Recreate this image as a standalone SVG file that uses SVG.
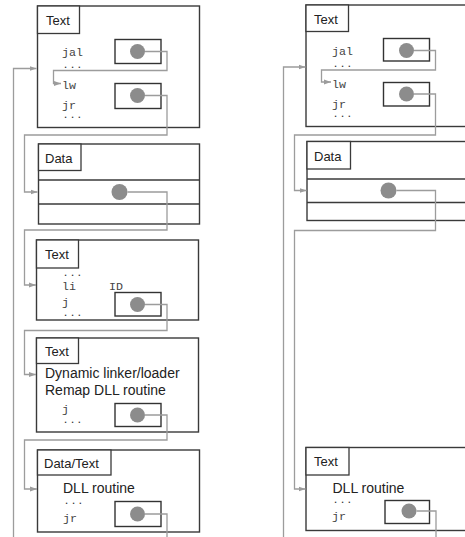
<svg xmlns="http://www.w3.org/2000/svg" width="465" height="537" viewBox="0 0 465 537">
  <style>
    .box { fill: #fff; stroke: #3a3a3a; stroke-width: 1.4; }
    .lbl { fill: #fff; stroke: #3a3a3a; stroke-width: 1.3; }
    .cell { fill: #fff; stroke: #333; stroke-width: 1.4; }
    .dot { fill: #8c8c8c; }
    .wire { fill: none; stroke: #9c9c9c; stroke-width: 1.3; }
    .sans { font-family: "Liberation Sans", Arial, sans-serif; fill: #222; }
    .head { font-size: 13px; }
    .body { font-size: 14px; }
    .mono { font-family: "Liberation Mono", "DejaVu Sans Mono", monospace; font-size: 11.6px; fill: #444; }
    .dots { font-family: "Liberation Mono", "DejaVu Sans Mono", monospace; font-size: 8.5px; font-weight: bold; letter-spacing: 1.8px; fill: #333; }
  </style>
  <defs>
    <marker id="arrow" markerUnits="userSpaceOnUse" markerWidth="8" markerHeight="6" refX="7" refY="3" orient="auto">
      <path d="M0,0.6 L7,3 L0,5.4 Z" fill="#9c9c9c"/>
    </marker>
  </defs>
  <rect width="465" height="537" fill="#fff"/>

  <!-- left column: process before the DLL is linked -->
  <g id="L-text-caller">
    <rect class="box" x="37.5" y="6" width="162" height="121.5"/>
    <rect class="lbl" x="37.5" y="6" width="42" height="27.5"/>
    <text class="sans head" x="46" y="25">Text</text>
    <text class="mono" x="62" y="56">jal</text>
    <text class="dots" x="63" y="67.5">...</text>
    <text class="mono" x="62" y="89">lw</text>
    <text class="mono" x="62" y="109">jr</text>
    <text class="dots" x="63" y="118">...</text>
    <rect class="cell" x="115" y="39.5" width="46" height="24"/>
    <circle class="dot" cx="137.5" cy="51.5" r="7.5"/>
    <rect class="cell" x="115" y="83.5" width="46" height="25"/>
    <circle class="dot" cx="137.5" cy="95.5" r="7.5"/>
  </g>

  <g id="L-data">
    <rect class="box" x="38.5" y="144" width="161" height="80"/>
    <rect class="lbl" x="38.5" y="144" width="42.5" height="26.5"/>
    <text class="sans head" x="45" y="163">Data</text>
    <line class="box" x1="38.5" y1="180" x2="199.5" y2="180"/>
    <line class="box" x1="38.5" y1="204" x2="199.5" y2="204"/>
    <circle class="dot" cx="119.5" cy="192" r="8"/>
  </g>

  <g id="L-text-stub">
    <rect class="box" x="36.5" y="240" width="162" height="80"/>
    <rect class="lbl" x="36.5" y="240" width="42" height="28"/>
    <text class="sans head" x="45" y="259">Text</text>
    <text class="dots" x="63" y="275.5">...</text>
    <text class="mono" x="62" y="290">li</text>
    <text class="mono" x="109" y="290">ID</text>
    <text class="mono" x="62" y="306">j</text>
    <text class="dots" x="63" y="316">...</text>
    <rect class="cell" x="115" y="292.5" width="46" height="23.5"/>
    <circle class="dot" cx="137.5" cy="304.5" r="7.5"/>
  </g>

  <g id="L-text-linker">
    <rect class="box" x="36.5" y="338" width="162" height="94"/>
    <rect class="lbl" x="36.5" y="338" width="42" height="25.5"/>
    <text class="sans head" x="45" y="356">Text</text>
    <text class="sans body" x="45" y="378">Dynamic linker/loader</text>
    <text class="sans body" x="45" y="395">Remap DLL routine</text>
    <text class="mono" x="62" y="412.5">j</text>
    <text class="dots" x="63" y="422.5">...</text>
    <rect class="cell" x="115" y="403.5" width="46" height="23"/>
    <circle class="dot" cx="137.5" cy="415" r="7.5"/>
  </g>

  <g id="L-data-text-dll">
    <rect class="box" x="37.5" y="450" width="162" height="82"/>
    <rect class="lbl" x="37.5" y="450" width="73.5" height="25"/>
    <text class="sans head" x="44" y="468">Data/Text</text>
    <text class="sans body" x="63" y="493">DLL routine</text>
    <text class="dots" x="64" y="504">...</text>
    <text class="mono" x="63" y="522">jr</text>
    <rect class="cell" x="115" y="501.5" width="46" height="25"/>
    <circle class="dot" cx="137.5" cy="514" r="7.5"/>
  </g>

  <!-- right column: process after the DLL is linked -->
  <g id="R-text-caller">
    <rect class="box" x="306" y="5" width="170" height="121.5"/>
    <rect class="lbl" x="306" y="5" width="42.5" height="26.5"/>
    <text class="sans head" x="314" y="24">Text</text>
    <text class="mono" x="332" y="55">jal</text>
    <text class="dots" x="333" y="66.5">...</text>
    <text class="mono" x="332" y="88">lw</text>
    <text class="mono" x="332" y="108">jr</text>
    <text class="dots" x="333" y="117">...</text>
    <rect class="cell" x="383.5" y="38.5" width="46" height="22.5"/>
    <circle class="dot" cx="406.5" cy="50.5" r="7.5"/>
    <rect class="cell" x="383.5" y="82.5" width="46" height="23.5"/>
    <circle class="dot" cx="406.5" cy="94" r="7.5"/>
  </g>

  <g id="R-data">
    <rect class="box" x="307" y="141.5" width="170" height="79"/>
    <rect class="lbl" x="307" y="141.5" width="43.5" height="27.5"/>
    <text class="sans head" x="314" y="161">Data</text>
    <line class="box" x1="307" y1="179" x2="477" y2="179"/>
    <line class="box" x1="307" y1="202.5" x2="477" y2="202.5"/>
    <circle class="dot" cx="388.5" cy="190.5" r="8"/>
  </g>

  <g id="R-text-dll">
    <rect class="box" x="306" y="447.5" width="170" height="83"/>
    <rect class="lbl" x="306" y="447.5" width="43" height="27.5"/>
    <text class="sans head" x="314" y="466">Text</text>
    <text class="sans body" x="332.5" y="492.5">DLL routine</text>
    <text class="dots" x="333" y="502.5">...</text>
    <text class="mono" x="332" y="520">jr</text>
    <rect class="cell" x="385" y="500.5" width="44.5" height="23"/>
    <circle class="dot" cx="409" cy="511" r="7.5"/>
  </g>

  <g id="connectors">
    <!-- left column -->
    <path class="wire" d="M13.5,537 V68.5 H36.5" marker-end="url(#arrow)"/>
    <path class="wire" d="M145,51.5 H167 V70.5 H53.5 V83.5 H61" marker-end="url(#arrow)"/>
    <path class="wire" d="M145,95.5 H167 V135 H24.5 V192 H37.5" marker-end="url(#arrow)"/>
    <path class="wire" d="M127.5,192 H167 V230 H24.5 V285 H36" marker-end="url(#arrow)"/>
    <path class="wire" d="M145,304.5 H167 V330.5 H24.5 V374.5 H36" marker-end="url(#arrow)"/>
    <path class="wire" d="M145,415 H167 V440 H24.5 V489 H37" marker-end="url(#arrow)"/>
    <path class="wire" d="M145,514 H167 V537"/>
    <!-- right column -->
    <path class="wire" d="M283.5,537 V67 H305.5" marker-end="url(#arrow)"/>
    <path class="wire" d="M414,50.5 H435.5 V70 H321.5 V82 H331" marker-end="url(#arrow)"/>
    <path class="wire" d="M414,94 H435.5 V135 H294.5 V190.5 H306.5" marker-end="url(#arrow)"/>
    <path class="wire" d="M396.5,190.5 H435.5 V230.5 H294.5 V489 H305.5" marker-end="url(#arrow)"/>
    <path class="wire" d="M416.5,511 H436 V537"/>
  </g>
</svg>
